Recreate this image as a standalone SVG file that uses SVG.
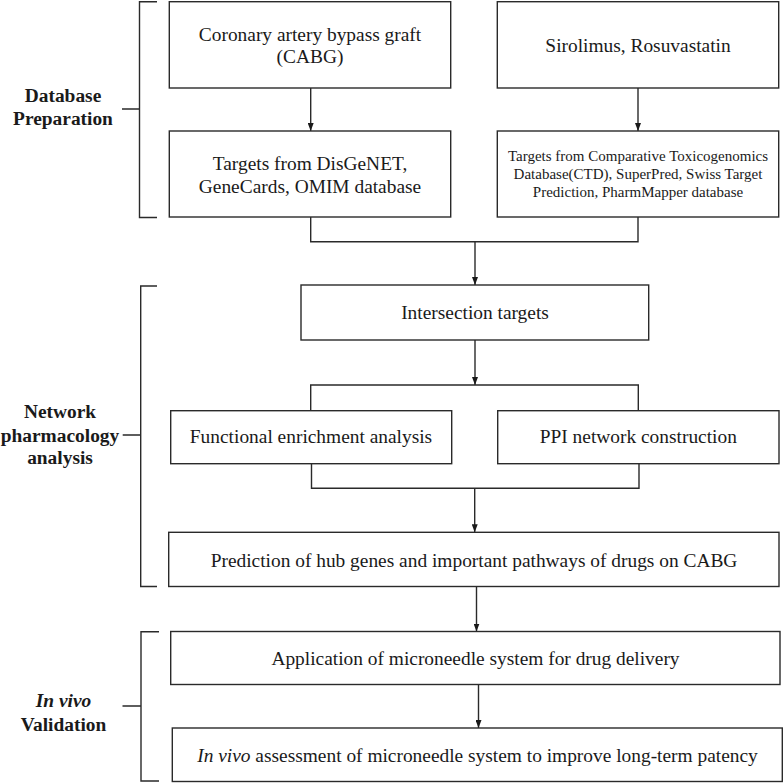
<svg xmlns="http://www.w3.org/2000/svg" width="784" height="784" viewBox="0 0 784 784">
<style>
.box{fill:#fff;stroke:#2a2a2a;stroke-width:1.4}
.ln{fill:none;stroke:#2a2a2a;stroke-width:1.4}
.t{font-family:"Liberation Serif","Times New Roman",serif;font-size:19.4px;fill:#1a1a1a;text-anchor:middle}
.s{font-size:15px}
.b{font-weight:bold}
</style>
<defs>
<marker id="a" viewBox="0 0 8 6" refX="8" refY="3" markerWidth="8" markerHeight="6" markerUnits="userSpaceOnUse" orient="auto">
<path d="M0,0 L8,3 L0,6 Z" fill="#1a1a1a"/>
</marker>
</defs>
<g id="labels">
<g id="label-db">
<text class="t b" x="63" y="101.7">Database</text>
<text class="t b" x="63" y="125">Preparation</text>
</g>
<g id="label-np">
<text class="t b" x="60" y="418">Network</text>
<text class="t b" x="60" y="441.5">pharmacology</text>
<text class="t b" x="60" y="464">analysis</text>
</g>
<g id="label-iv">
<text class="t b" x="63.5" y="706.7"><tspan font-style="italic">In vivo</tspan></text>
<text class="t b" x="63.5" y="730.7">Validation</text>
</g>
</g>
<g id="brackets">
<path class="ln" d="M157,1.7 H139.5 V217.5 H157 M122,109 H139.5"/>
<path class="ln" d="M157,286 H140.7 V586.5 H157 M122.7,435 H140.7"/>
<path class="ln" d="M159,631.7 H141 V781 H159 M122.5,706 H141"/>
</g>
<g id="connectors">
<path class="ln" d="M310.7,88 V131" marker-end="url(#a)"/>
<path class="ln" d="M638,88 V131" marker-end="url(#a)"/>
<path class="ln" d="M310.7,217 V241.7 H638 V217"/>
<path class="ln" d="M475,241.7 V285" marker-end="url(#a)"/>
<path class="ln" d="M475,340 V385" marker-end="url(#a)"/>
<path class="ln" d="M310.7,410.7 V385 H638.3 V410.7"/>
<path class="ln" d="M311.5,463.7 V488.3 H639 V463.7"/>
<path class="ln" d="M474.7,488.3 V532.3" marker-end="url(#a)"/>
<path class="ln" d="M476.5,586.5 V631.5" marker-end="url(#a)"/>
<path class="ln" d="M478.5,684.5 V728" marker-end="url(#a)"/>
</g>
<g id="n-cabg">
<rect class="box" x="169.3" y="1.7" width="281.4" height="86.3"/>
<text class="t" x="310" y="40.7">Coronary artery bypass graft</text>
<text class="t" x="310" y="63.3">(CABG)</text>
</g>
<g id="n-drugs">
<rect class="box" x="497.3" y="1.7" width="281.4" height="86.3"/>
<text class="t" x="638" y="51.7">Sirolimus, Rosuvastatin</text>
</g>
<g id="n-dis-targets">
<rect class="box" x="169.3" y="131" width="281.4" height="86"/>
<text class="t" x="310" y="170">Targets from DisGeNET,</text>
<text class="t" x="310" y="192.7">GeneCards, OMIM database</text>
</g>
<g id="n-drug-targets">
<rect class="box" x="497.3" y="131" width="281.4" height="86"/>
<text class="t s" x="638" y="160.7">Targets from Comparative Toxicogenomics</text>
<text class="t s" x="638" y="178.7">Database(CTD), SuperPred, Swiss Target</text>
<text class="t s" x="638" y="196.7">Prediction, PharmMapper database</text>
</g>
<g id="n-intersection">
<rect class="box" x="301" y="285" width="347.7" height="55"/>
<text class="t" x="475" y="319">Intersection targets</text>
</g>
<g id="n-functional">
<rect class="box" x="170.7" y="410.7" width="281" height="53"/>
<text class="t" x="311" y="443.3">Functional enrichment analysis</text>
</g>
<g id="n-ppi">
<rect class="box" x="497.7" y="410.7" width="281.3" height="53"/>
<text class="t" x="638.3" y="443.3">PPI network construction</text>
</g>
<g id="n-prediction">
<rect class="box" x="168.7" y="532.3" width="610.3" height="54.2"/>
<text class="t" x="474" y="566.7">Prediction of hub genes and important pathways of drugs on CABG</text>
</g>
<g id="n-application">
<rect class="box" x="170.7" y="631.5" width="609.3" height="53"/>
<text class="t" x="475.5" y="665">Application of microneedle system for drug delivery</text>
</g>
<g id="n-invivo">
<rect class="box" x="172.3" y="728" width="610" height="53.5"/>
<text class="t" x="477.5" y="761.7"><tspan font-style="italic">In vivo</tspan> assessment of microneedle system to improve long-term patency</text>
</g>
</svg>
